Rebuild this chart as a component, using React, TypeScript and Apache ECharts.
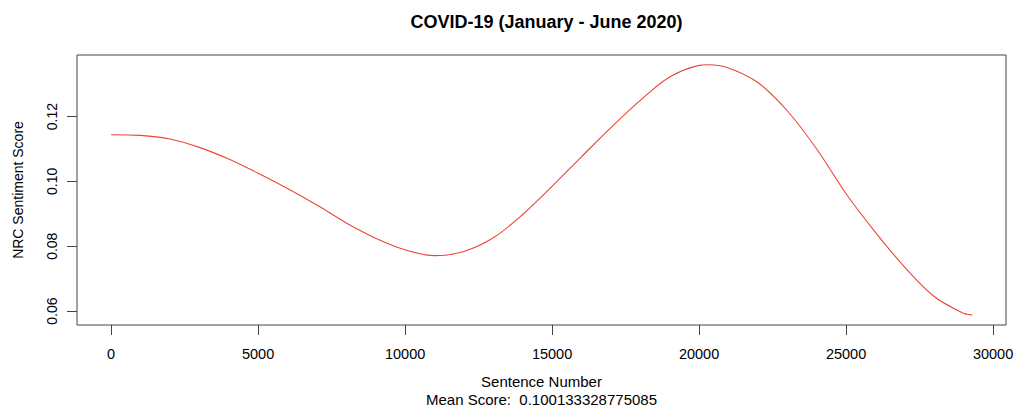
import React, { useEffect, useRef } from "react";
import * as echarts from "echarts";

const sentenceNumbers = [0, 1000, 2000, 3000, 4000, 5000, 6000, 7000, 8000, 9000, 10000, 11000, 12000, 13000, 14000, 15000, 16000, 17000, 18000, 19000, 20000, 20300, 21000, 22000, 23000, 24000, 25000, 26000, 27000, 28000, 29000, 29300];
const sentimentScores = [0.1144, 0.1142, 0.1131, 0.1105, 0.1069, 0.1025, 0.0978, 0.0927, 0.0872, 0.0825, 0.0789, 0.0771, 0.0784, 0.0826, 0.0898, 0.0985, 0.1076, 0.1166, 0.1250, 0.1322, 0.1358, 0.1360, 0.1350, 0.1305, 0.1218, 0.1100, 0.0962, 0.0843, 0.0735, 0.0645, 0.0593, 0.0588];
const xTicks = [0, 5000, 10000, 15000, 20000, 25000, 30000];
const yTicks = [0.06, 0.08, 0.10, 0.12];
const titleText = "COVID-19 (January - June 2020)";
const xName = "Sentence Number";
const meanText = "Mean Score:  0.100133328775085";
const yName = "NRC Sentiment Score";

const FONT = "'Liberation Sans', Arial, Helvetica, sans-serif";

export default function App() {
  const ref = useRef<HTMLDivElement>(null);
  useEffect(() => {
    if (!ref.current) return;
    const chart = echarts.init(ref.current, undefined, { renderer: "svg" });
    const data = sentenceNumbers.map((x, i) => [x, sentimentScores[i]]);
    chart.setOption({
      animation: false,
      backgroundColor: "#ffffff",
      textStyle: { fontFamily: FONT },
      title: {
        text: titleText,
        left: 541.5,
        textAlign: "center",
        top: 8,
        textStyle: { fontFamily: FONT, fontSize: 18, fontWeight: "bold", color: "#000" },
      },
      grid: {
        left: 77,
        right: 18,
        top: 55,
        bottom: 91,
        show: true,
        borderColor: "#444",
        borderWidth: 1,
        backgroundColor: "transparent",
      },
      xAxis: {
        type: "value",
        min: -1160,
        max: 30440,
        name: xName + "\n" + meanText,
        nameLocation: "middle",
        nameGap: 47,
        nameTextStyle: { fontFamily: FONT, fontSize: 15, color: "#000", lineHeight: 18.5 },
        axisLine: { show: false, onZero: false },
        axisTick: { show: true, length: 10, lineStyle: { color: "#444" }, customValues: xTicks },
        axisLabel: {
          customValues: xTicks,
          margin: 21,
          fontFamily: FONT,
          fontSize: 14.5,
          color: "#000",
          formatter: (v: number) => String(v),
        },
        splitLine: { show: false },
      },
      yAxis: {
        type: "value",
        min: 0.0557,
        max: 0.139,
        name: yName,
        nameLocation: "middle",
        nameGap: 52,
        nameTextStyle: { fontFamily: FONT, fontSize: 14, color: "#000" },
        axisLine: { show: false, onZero: false },
        axisTick: { show: true, length: 10, lineStyle: { color: "#444" }, customValues: yTicks },
        axisLabel: {
          customValues: yTicks,
          rotate: 90,
          margin: 18,
          fontFamily: FONT,
          fontSize: 14,
          color: "#000",
          formatter: (v: number) => v.toFixed(2),
        },
        splitLine: { show: false },
      },
      series: [
        {
          type: "line",
          data,
          smooth: 0.35,
          showSymbol: false,
          symbol: "none",
          lineStyle: { color: "#ee4433", width: 1.1 },
        },
      ],
    });
    return () => chart.dispose();
  }, []);
  return (
    <div
      ref={ref}
      style={{ position: "absolute", left: 0, top: 0, width: 1024, height: 416 }}
    />
  );
}
